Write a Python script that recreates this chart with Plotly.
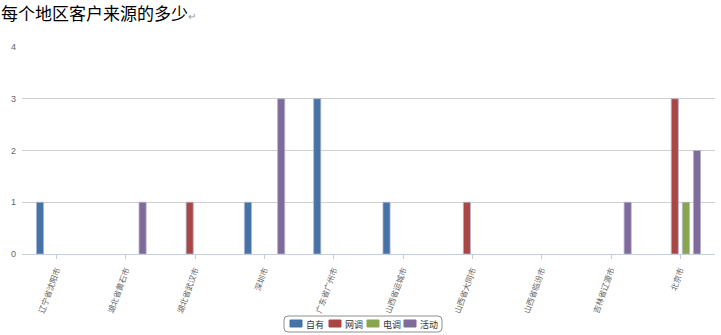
import plotly.graph_objects as go

categories = ["辽宁省沈阳市", "湖北省黄石市", "湖北省武汉市", "深圳市", "广东省广州市",
              "山西省运城市", "山西省大同市", "山西省临汾市", "吉林省辽源市", "北京市"]
ziyou = [1, None, None, 1, 3, 1, None, None, None, None]
wangdiao = [None, None, 1, None, None, None, 1, None, None, 3]
diandiao = [None, None, None, None, None, None, None, None, None, 1]
huodong = [None, 1, None, 3, None, None, None, None, 1, 2]
series_names = ["自有", "网调", "电调", "活动"]
colors = ["#4572A7", "#AA4643", "#89A54E", "#80699B"]

W, H = 721, 335
L, R, T, B = 22, 6, 47, 81
PW, PH = W - L - R, H - T - B


def px(x):
    return (x - L) / PW


def py(y):
    return (H - B - y) / PH


font_cjk = "Noto Sans CJK SC, sans-serif"
fig = go.Figure()
for name, vals, col in zip(series_names, [ziyou, wangdiao, diandiao, huodong], colors):
    fig.add_trace(go.Bar(
        name=name, x=categories, y=vals, showlegend=False,
        marker=dict(color=col, line=dict(color="rgba(175,180,205,0.8)", width=1)),
    ))

# custom compact legend (box, colour keys and real text labels)
shapes = []
annotations = []
x0, x1, y0, y1 = 284, 442, 316, 332
r = 4
path = (f"M {px(x0 + r)} {py(y0)} L {px(x1 - r)} {py(y0)} Q {px(x1)} {py(y0)} {px(x1)} {py(y0 + r)} "
        f"L {px(x1)} {py(y1 - r)} Q {px(x1)} {py(y1)} {px(x1 - r)} {py(y1)} "
        f"L {px(x0 + r)} {py(y1)} Q {px(x0)} {py(y1)} {px(x0)} {py(y1 - r)} "
        f"L {px(x0)} {py(y0 + r)} Q {px(x0)} {py(y0)} {px(x0 + r)} {py(y0)} Z")
shapes.append(dict(type="path", xref="paper", yref="paper", path=path,
                   line=dict(color="#909090", width=1), fillcolor="white"))
key_x = [290, 329, 367, 404]
for kx, name, col in zip(key_x, series_names, colors):
    shapes.append(dict(type="rect", xref="paper", yref="paper",
                       x0=px(kx), x1=px(kx + 12), y0=py(320), y1=py(327),
                       line=dict(color=col, width=1), fillcolor=col))
    annotations.append(dict(xref="paper", yref="paper", x=px(kx + 15), y=py(324),
                            xanchor="left", yanchor="middle", showarrow=False,
                            borderpad=0,
                            text=name, font=dict(family=font_cjk, size=9, color="#333")))

fig.update_layout(
    width=W, height=H,
    margin=dict(l=L, r=R, t=T, b=B),
    paper_bgcolor="white", plot_bgcolor="white",
    barmode="group", bargap=0.36, bargroupgap=0.36,
    title=dict(text="每个地区客户来源的多少<span style='font-size:10px;color:#999'>↵</span>",
               x=1 / W, xanchor="left", xref="container",
               y=1 - 14 / H, yanchor="middle", yref="container",
               font=dict(family=font_cjk, size=17, color="#000")),
    showlegend=False,
    shapes=shapes,
    annotations=annotations,
    font=dict(family=font_cjk),
)
fig.update_xaxes(
    tickangle=-70, tickfont=dict(family=font_cjk, size=8, color="#666"),
    showline=True, linecolor="#C0D0E0", linewidth=1,
    ticks="outside", ticklen=4, tickcolor="#C0D0E0",
    ticklabelstandoff=3,
    showgrid=False, automargin=False,
)
fig.update_yaxes(
    range=[0, 4], dtick=1, showgrid=True, gridcolor="#D0D0D0", gridwidth=1,
    tickfont=dict(size=9, color="#666", family="Liberation Sans, sans-serif"),
    ticklabelstandoff=5,
    zeroline=False, showline=False, ticks="", automargin=False,
)
fig.write_html("out.html")
